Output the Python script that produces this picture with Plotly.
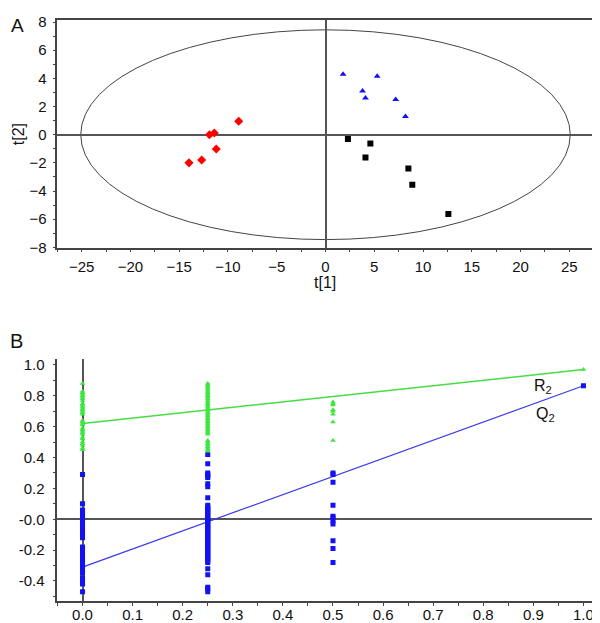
import plotly.graph_objects as go

# ---------------- Panel A data (score plot) ----------------
red_t1 = [-14.0, -12.7, -11.9, -11.4, -11.2, -8.9]
red_t2 = [-2.0, -1.8, 0.0, 0.12, -1.02, 0.96]
blue_t1 = [1.8, 5.3, 3.8, 4.1, 7.2, 8.2]
blue_t2 = [4.3, 4.15, 3.1, 2.6, 2.5, 1.3]
black_t1 = [2.3, 4.6, 4.1, 8.5, 8.9, 12.6]
black_t2 = [-0.3, -0.63, -1.62, -2.4, -3.55, -5.63]
ellipse_a = 25.1
ellipse_b = 7.45

a_xticks = [-25, -20, -15, -10, -5, 0, 5, 10, 15, 20, 25]
a_yticks = [-8, -6, -4, -2, 0, 2, 4, 6, 8]

# ---------------- Panel B data (permutation test) ----------------
r2_x0 = [0.88, 0.83, 0.82, 0.81, 0.80, 0.79, 0.78, 0.77, 0.75, 0.74, 0.73, 0.72,
         0.71, 0.70, 0.69, 0.68, 0.64, 0.63, 0.62, 0.61, 0.59, 0.58, 0.57, 0.56,
         0.55, 0.53, 0.52, 0.50, 0.49, 0.48, 0.46, 0.45]
r2_x025 = [0.88, 0.87, 0.86, 0.85, 0.84, 0.83, 0.82, 0.81, 0.80, 0.79, 0.78, 0.77,
           0.76, 0.75, 0.74, 0.73, 0.72, 0.71, 0.70, 0.69, 0.68, 0.67, 0.66, 0.65,
           0.64, 0.63, 0.62, 0.61, 0.60, 0.59, 0.58, 0.57, 0.56, 0.55, 0.51, 0.50,
           0.49, 0.48, 0.47, 0.46, 0.45, 0.44]
r2_x05 = [0.76, 0.75, 0.74, 0.71, 0.70, 0.68, 0.63, 0.51]
q2_x0 = [0.29, 0.10, 0.06, 0.05, 0.04, 0.03, 0.02, 0.01, -0.01, -0.02, -0.03, -0.05,
         -0.06, -0.07, -0.08, -0.10, -0.11, -0.12, -0.18, -0.19, -0.20, -0.22, -0.23,
         -0.25, -0.26, -0.27, -0.28, -0.30, -0.31, -0.32, -0.33, -0.34, -0.35, -0.38,
         -0.39, -0.41, -0.42, -0.47]
q2_x025 = [0.42, 0.36, 0.30, 0.29, 0.28, 0.27, 0.23, 0.21, 0.14, 0.09, 0.08, 0.07,
           0.06, 0.05, 0.04, 0.03, 0.02, 0.01, 0.0, -0.01, -0.02, -0.03, -0.04, -0.05,
           -0.06, -0.07, -0.08, -0.09, -0.10, -0.11, -0.12, -0.13, -0.14, -0.15, -0.16,
           -0.17, -0.18, -0.19, -0.20, -0.21, -0.22, -0.23, -0.24, -0.25, -0.26, -0.27,
           -0.28, -0.32, -0.36, -0.44, -0.45, -0.47]
q2_x05 = [0.30, 0.29, 0.24, 0.09, 0.02, 0.01, -0.01, -0.03, -0.14, -0.19, -0.28]
r2_orig = 0.97
q2_orig = 0.865
r2_intercept = 0.62
q2_intercept = -0.31

b_xticks = [0.0, 0.1, 0.2, 0.3, 0.4, 0.5, 0.6, 0.7, 0.8, 0.9, 1.0]
b_xticktext = ["0.0", "0.1", "0.2", "0.3", "0.4", "0.5", "0.6", "0.7", "0.8", "0.9", "1.0"]
b_yticks = [1.0, 0.8, 0.6, 0.4, 0.2, 0.0, -0.2, -0.4]
b_yticktext = ["1.0", "0.8", "0.6", "0.4", "0.2", "-0.0", "-0.2", "-0.4"]

GREEN = "#3ee63e"
GREEN_LINE = "#44dd44"
BLUE = "#1212f2"
BLUE_LINE = "#3a3ae8"
FONT = "Liberation Sans, Arial, sans-serif"
AXC = "#444"

fig = go.Figure()

# Panel A
fig.add_trace(go.Scatter(x=red_t1, y=red_t2, mode="markers", xaxis="x", yaxis="y",
                         marker=dict(symbol="diamond", size=7, color="#ff0000")))
fig.add_trace(go.Scatter(x=blue_t1, y=blue_t2, mode="markers", xaxis="x", yaxis="y",
                         marker=dict(symbol="triangle-up", size=6, color="#1010f0")))
fig.add_trace(go.Scatter(x=black_t1, y=black_t2, mode="markers", xaxis="x", yaxis="y",
                         marker=dict(symbol="square", size=6, color="#000000")))

# Panel B
fig.add_trace(go.Scatter(x=[0, 1], y=[q2_intercept, q2_orig], mode="lines", xaxis="x2", yaxis="y2",
                         line=dict(color=BLUE_LINE, width=1.2)))
fig.add_trace(go.Scatter(x=[0, 1], y=[r2_intercept, r2_orig], mode="lines", xaxis="x2", yaxis="y2",
                         line=dict(color=GREEN_LINE, width=1.5)))
q_x = [0.0] * len(q2_x0) + [0.25] * len(q2_x025) + [0.5] * len(q2_x05) + [1.0]
q_y = q2_x0 + q2_x025 + q2_x05 + [q2_orig]
r_x = [0.0] * len(r2_x0) + [0.25] * len(r2_x025) + [0.5] * len(r2_x05) + [1.0]
r_y = r2_x0 + r2_x025 + r2_x05 + [r2_orig]
fig.add_trace(go.Scatter(x=q_x, y=q_y, mode="markers", xaxis="x2", yaxis="y2",
                         marker=dict(symbol="square", size=5, color=BLUE)))
fig.add_trace(go.Scatter(x=r_x, y=r_y, mode="markers", xaxis="x2", yaxis="y2",
                         marker=dict(symbol="triangle-up", size=5, color=GREEN)))

tickfont = dict(family=FONT, size=15, color="#111")


def ax(**kw):
    base = dict(ticks="outside", ticklen=3, tickwidth=1, tickcolor=AXC,
                showline=True, linecolor=AXC, linewidth=1.5,
                zeroline=True, zerolinecolor="#555", zerolinewidth=1.5,
                showgrid=False, tickfont=tickfont)
    base.update(kw)
    return base


fig.update_layout(
    width=600, height=623,
    margin=dict(l=0, r=0, t=0, b=0),
    paper_bgcolor="white", plot_bgcolor="white",
    showlegend=False,
    font=dict(family=FONT, color="#111"),
    xaxis=ax(domain=[0.0822, 0.9745], range=[-27.5, 27.4], anchor="y",
             tickvals=a_xticks, mirror=True, ticklabelstandoff=2,
             minor=dict(dtick=2.5, tick0=0, ticks="outside", ticklen=3, tickcolor=AXC)),
    yaxis=ax(domain=[0.6164, 0.9909], range=[-8.02, 8.18], anchor="x",
             tickvals=a_yticks, mirror=True, ticklabelstandoff=3,
             minor=dict(dtick=1, tick0=0, ticks="outside", ticklen=3, tickcolor=AXC)),
    xaxis2=ax(domain=[0.0822, 1.0], range=[-0.0503, 1.049], anchor="y2",
              tickvals=b_xticks, ticktext=b_xticktext, ticklabelstandoff=-4,
              minor=dict(dtick=0.05, tick0=0, ticks="outside", ticklen=3, tickcolor=AXC)),
    yaxis2=ax(domain=[0.0358, 0.4339], range=[-0.531, 1.04], anchor="x2",
              tickvals=b_yticks, ticktext=b_yticktext, ticklabelstandoff=5,
              minor=dict(dtick=0.1, tick0=0, ticks="outside", ticklen=3, tickcolor=AXC)),
    shapes=[dict(type="circle", xref="x", yref="y",
                 x0=-ellipse_a, x1=ellipse_a, y0=-ellipse_b, y1=ellipse_b,
                 line=dict(color="#444", width=1), layer="below")],
    annotations=[
        dict(text="A", x=0.002, y=1 - 12 / 623, xref="paper", yref="paper",
             xanchor="left", yanchor="middle", showarrow=False,
             font=dict(family=FONT, size=19, color="#111")),
        dict(text="B", x=0.0, y=1 - 335 / 623, xref="paper", yref="paper",
             xanchor="left", yanchor="middle", showarrow=False,
             font=dict(family=FONT, size=20, color="#111")),
        dict(text="t[1]", x=317 / 600, y=1 - 275 / 623, xref="paper", yref="paper",
             xanchor="center", yanchor="middle", showarrow=False,
             font=dict(family=FONT, size=16, color="#111")),
        dict(text="t[2]", x=10 / 600, y=1 - 123 / 623, xref="paper", yref="paper",
             xanchor="center", yanchor="middle", showarrow=False, textangle=-90,
             font=dict(family=FONT, size=16, color="#111")),
        dict(text="R<sub>2</sub>", x=0.92, y=0.86, xref="x2", yref="y2",
             xanchor="center", yanchor="middle", showarrow=False,
             font=dict(family=FONT, size=16, color="#111")),
        dict(text="Q<sub>2</sub>", x=0.925, y=0.677, xref="x2", yref="y2",
             xanchor="center", yanchor="middle", showarrow=False,
             font=dict(family=FONT, size=16, color="#111")),
    ],
)

fig.write_html("out.html")
